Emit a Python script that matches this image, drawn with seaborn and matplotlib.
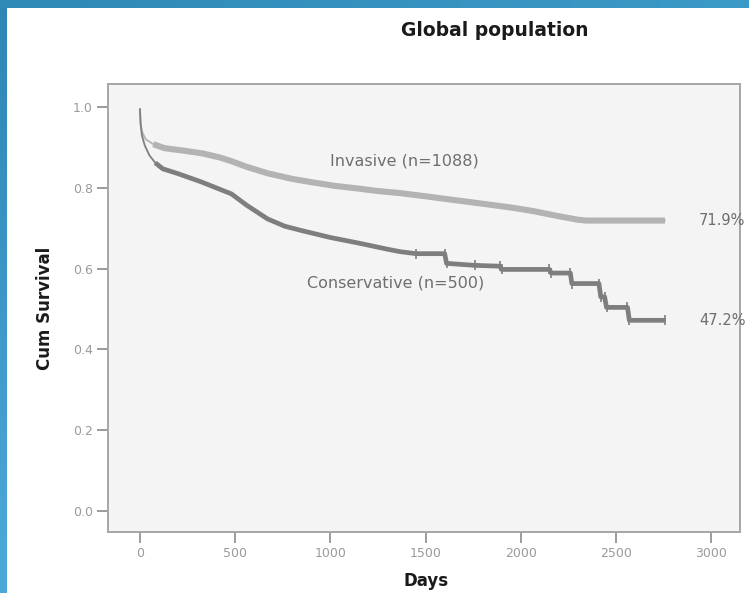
import numpy as np
import pandas as pd
import matplotlib
matplotlib.use("Agg")
import matplotlib.pyplot as plt
from matplotlib.colors import LinearSegmentedColormap
import seaborn as sns

# ---- data ----
inv_days = [0, 3, 10, 30, 70, 130, 230, 330, 420, 480, 560, 670, 800, 900, 1020,
            1150, 1250, 1365, 1500, 1630, 1760, 1890, 1980, 2070, 2195, 2300, 2340, 2757]
inv_surv = [0.995, 0.96, 0.94, 0.92, 0.908, 0.898, 0.892, 0.885, 0.875, 0.866, 0.852,
            0.836, 0.822, 0.814, 0.805, 0.798, 0.792, 0.787, 0.779, 0.771, 0.763, 0.755,
            0.749, 0.742, 0.730, 0.721, 0.719, 0.719]

con_days = [0, 3, 10, 25, 50, 80, 120, 200, 320, 400, 480, 560, 670, 760, 850, 1000,
            1150, 1300, 1365, 1450, 1600, 1610, 1760, 1890, 1900, 2150, 2160, 2260, 2268,
            2410, 2420, 2440, 2450, 2560, 2570, 2757]
con_surv = [0.995, 0.96, 0.93, 0.905, 0.88, 0.862, 0.847, 0.835, 0.815, 0.800, 0.785,
            0.757, 0.723, 0.705, 0.694, 0.677, 0.663, 0.648, 0.642, 0.637, 0.637, 0.613,
            0.608, 0.606, 0.598, 0.598, 0.589, 0.589, 0.563, 0.563, 0.530, 0.530, 0.504,
            0.504, 0.472, 0.472]

groups = ["Invasive (n=1088)", "Conservative (n=500)"]
end_labels = ["71.9%", "47.2%"]
x_ticks = [0, 500, 1000, 1500, 2000, 2500, 3000]
y_ticks = [0.0, 0.2, 0.4, 0.6, 0.8, 1.0]

df_inv = pd.DataFrame({"Days": inv_days, "Survival": inv_surv})
df_con = pd.DataFrame({"Days": con_days, "Survival": con_surv})

sns.set_theme(style="white")
plt.rcParams["font.family"] = ["DejaVu Sans"]

fig = plt.figure(figsize=(7.49, 5.93), dpi=100)
fig.patch.set_facecolor("white")

# slide border (blue)
bax = fig.add_axes([0, 0, 7 / 749, 1])
grad = np.linspace(0, 1, 256).reshape(-1, 1)
cm = LinearSegmentedColormap.from_list("b", ["#4caad9", "#2d86b4"])
bax.imshow(grad, aspect="auto", cmap=cm, origin="lower")
bax.set_axis_off()
tax = fig.add_axes([0, 1 - 8 / 593, 1, 8 / 593])
gradh = np.linspace(0, 1, 256).reshape(1, -1)
cm2 = LinearSegmentedColormap.from_list("b2", ["#2f89b7", "#3c9ac7"])
tax.imshow(gradh, aspect="auto", cmap=cm2)
tax.set_axis_off()

ax = fig.add_axes([108 / 749, 1 - 532 / 593, (740 - 108) / 749, (532 - 84) / 593])
ax.set_facecolor("#f4f4f4")

inv_col = "#b3b3b3"
con_col = "#7e7e7e"

sns.lineplot(data=df_inv, x="Days", y="Survival", ax=ax, color=inv_col, lw=1.3,
             estimator=None, sort=False)
sns.lineplot(data=df_con, x="Days", y="Survival", ax=ax, color=con_col, lw=1.3,
             estimator=None, sort=False)
sns.lineplot(data=df_inv[df_inv.Days >= 70], x="Days", y="Survival", ax=ax, color=inv_col,
             lw=4.4, estimator=None, sort=False, solid_capstyle="butt")
sns.lineplot(data=df_con[df_con.Days >= 80], x="Days", y="Survival", ax=ax, color=con_col,
             lw=3.4, estimator=None, sort=False, solid_capstyle="butt")
late = df_con[df_con.Days >= 1450]
ax.scatter(late.Days, late.Survival, marker="|", s=45, color=con_col, lw=1.2, zorder=3)

ax.set_xlim(-168, 3151)
ax.set_ylim(-0.052, 1.057)
ax.set_xticks(x_ticks)
ax.set_xticklabels([str(t) for t in x_ticks])
ax.set_yticks(y_ticks)
ax.set_yticklabels([f"{t:.1f}" for t in y_ticks])
ax.tick_params(axis="both", which="major", direction="out", length=8, width=1.2,
               color="#8a8a8a", labelcolor="#9a9a9a", labelsize=9, pad=3,
               bottom=True, left=True)
for s in ax.spines.values():
    s.set_color("#a6a6a6")
    s.set_linewidth(1.4)
ax.set_xlabel("")
ax.set_ylabel("")

txt_col = "#6e6e6e"
ax.text(1387, 0.867, groups[0], ha="center", va="center", fontsize=11.5, color=txt_col)
ax.text(1345, 0.565, groups[1], ha="center", va="center", fontsize=11.5, color=txt_col)
ax.text(2935, 0.719, end_labels[0], ha="left", va="center", fontsize=10.5, color=txt_col)
ax.text(2935, 0.472, end_labels[1], ha="left", va="center", fontsize=10.5, color=txt_col)

fig.text(495 / 749, 1 - 30 / 593, "Global population", ha="center", va="center",
         fontsize=13.5, fontweight="bold", color="#1a1a1a")
fig.text(426 / 749, 1 - 581 / 593, "Days", ha="center", va="center",
         fontsize=12, fontweight="bold", color="#1a1a1a")
fig.text(45 / 749, 1 - 308 / 593, "Cum Survival", ha="center", va="center",
         rotation=90, fontsize=12, fontweight="bold", color="#1a1a1a")

fig.savefig("out.png", dpi=100)
